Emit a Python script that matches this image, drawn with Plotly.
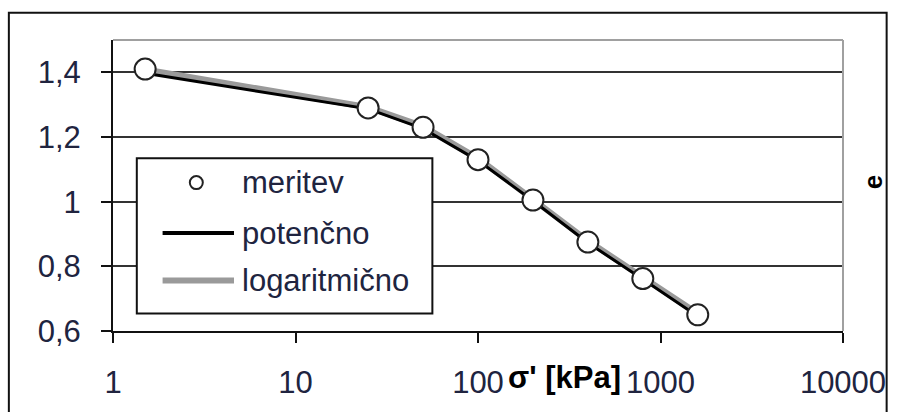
import plotly.graph_objects as go

# ---- data ----
sigma = [1.5, 25, 50, 100, 200, 400, 800, 1600]
e_meritev = [1.41, 1.29, 1.23, 1.13, 1.005, 0.875, 0.762, 0.65]
e_potencno = [1.397, 1.287, 1.226, 1.127, 1.003, 0.873, 0.760, 0.646]
e_logaritmicno = [1.409, 1.292, 1.233, 1.134, 1.007, 0.879, 0.766, 0.654]
series_names = ["meritev", "potenčno", "logaritmično"]
x_tickvals = [1, 10, 100, 1000, 10000]
x_ticktext = ["1", "10", "100", "1000", "10000"]
y_tickvals = [0.6, 0.8, 1.0, 1.2, 1.4]
y_ticktext = ["0,6", "0,8", "1", "1,2", "1,4"]

W, H = 898, 412
L, R, T, B = 113, 49, 40, 72
PW, PH = W - L - R, H - T - B
TXT = "#20243f"


def px(x):
    return (x - L) / PW


def py(y):
    return (H - B - y) / PH


fig = go.Figure()
fig.add_trace(go.Scatter(x=sigma, y=e_logaritmicno, mode="lines", name=series_names[2],
                         line=dict(color="#9a9a9a", width=6), showlegend=False))
fig.add_trace(go.Scatter(x=sigma, y=e_potencno, mode="lines", name=series_names[1],
                         line=dict(color="#000000", width=3), showlegend=False))
fig.add_trace(go.Scatter(x=sigma, y=e_meritev, mode="markers", name=series_names[0],
                         marker=dict(size=21, color="white", line=dict(color="#222", width=2)),
                         showlegend=False))

shapes = []
# outer frame
shapes.append(dict(type="rect", xref="paper", yref="paper", x0=px(8), x1=px(893), y0=py(430), y1=py(12),
                   line=dict(color="#111", width=2), fillcolor="rgba(0,0,0,0)", layer="below"))
# top & right plot border (gray)
shapes.append(dict(type="line", xref="paper", yref="paper", x0=0, x1=1, y0=1, y1=1,
                   line=dict(color="#a0a0a0", width=2)))
shapes.append(dict(type="line", xref="paper", yref="paper", x0=1, x1=1, y0=0, y1=1,
                   line=dict(color="#a0a0a0", width=2)))
# legend box
shapes.append(dict(type="rect", xref="paper", yref="paper", x0=px(137), x1=px(435), y0=py(322), y1=py(162),
                   line=dict(color="#111", width=2), fillcolor="white", layer="above"))
# legend symbols
shapes.append(dict(type="circle", xref="paper", yref="paper", xsizemode="pixel", ysizemode="pixel",
                   xanchor=px(197), yanchor=py(187), x0=-6.5, x1=6.5, y0=-6.5, y1=6.5,
                   line=dict(color="#222", width=2), fillcolor="white", layer="above"))
shapes.append(dict(type="line", xref="paper", yref="paper", x0=px(163), x1=px(235), y0=py(239), y1=py(239),
                   line=dict(color="#000", width=4), layer="above"))
shapes.append(dict(type="line", xref="paper", yref="paper", x0=px(163), x1=px(235), y0=py(288), y1=py(288),
                   line=dict(color="#9a9a9a", width=6), layer="above"))

annotations = []
for name, yy in zip(series_names, [187, 239, 288]):
    annotations.append(dict(text=name, xref="paper", yref="paper", x=px(241), y=py(yy),
                            xanchor="left", yanchor="middle", showarrow=False,
                            font=dict(family="Liberation Sans, Arial", size=31, color=TXT)))
# x title
annotations.append(dict(text="<b>σ' [kPa]</b>", xref="paper", yref="paper", x=px(568), y=py(388),
                        xanchor="center", yanchor="middle", showarrow=False,
                        font=dict(family="Liberation Sans, Arial", size=31, color="#000")))
# y title (right side)
annotations.append(dict(text="<b>e</b>", xref="paper", yref="paper", x=px(879), y=py(187),
                        xanchor="center", yanchor="middle", showarrow=False, textangle=-90,
                        font=dict(family="Liberation Sans, Arial", size=26, color="#000")))

fig.update_layout(
    width=W, height=H,
    margin=dict(l=L, r=R, t=T, b=B, pad=0),
    paper_bgcolor="white", plot_bgcolor="white",
    shapes=shapes, annotations=annotations,
    showlegend=False,
    xaxis=dict(type="log", range=[0, 4], tickvals=x_tickvals, ticktext=x_ticktext,
               ticks="outside", ticklen=10, tickwidth=2, tickcolor="#111",
               showline=True, linecolor="#111", linewidth=2, showgrid=False, zeroline=False,
               ticklabelstandoff=13,
               tickfont=dict(family="Liberation Sans, Arial", size=31, color=TXT)),
    yaxis=dict(range=[0.6, 1.5], tickvals=y_tickvals, ticktext=y_ticktext,
               ticks="outside", ticklen=10, tickwidth=2, tickcolor="#111",
               showline=True, linecolor="#111", linewidth=2,
               showgrid=True, gridcolor="#333333", gridwidth=2, zeroline=False,
               ticklabelstandoff=14,
               tickfont=dict(family="Liberation Sans, Arial", size=31, color=TXT)),
)

fig.write_html("out.html")
